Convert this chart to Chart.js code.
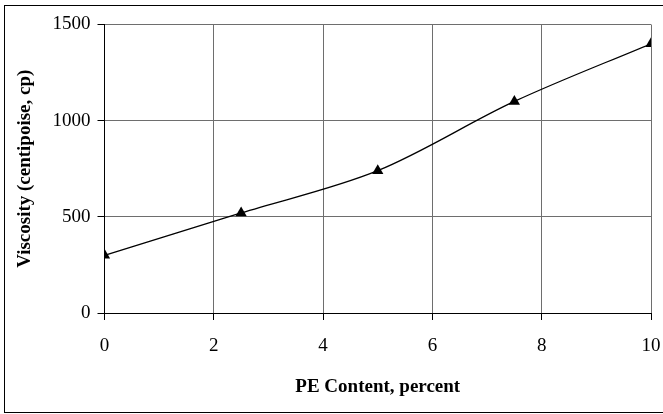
<!DOCTYPE html>
<html>
<head>
<meta charset="utf-8">
<title>Viscosity vs PE Content</title>
<script src="https://cdn.jsdelivr.net/npm/chart.js@4/dist/chart.umd.min.js"></script>
<style>
  html, body { margin: 0; padding: 0; background: #fff; }
  #wrap { width: 663px; height: 414px; }
</style>
</head>
<body>
<div id="wrap"><canvas id="c" width="663" height="414"></canvas></div>
<script>
// Measured viscosity at each polyethylene content
const peContent = [0, 2.5, 5, 7.5, 10];
const viscosity = [300, 520, 740, 1100, 1400];

// Axis ranges and tick spacing
const xTickStep = 2;
const yTickStep = 500;
const xTitle = 'PE Content, percent';
const yTitle = 'Viscosity (centipoise, cp)';

const serif = 'Liberation Serif, Times New Roman, serif';

// Thin frame around the whole chart
const framePlugin = {
  id: 'frame',
  beforeDraw(chart) {
    const ctx = chart.ctx;
    ctx.save();
    ctx.fillStyle = '#fff';
    ctx.fillRect(0, 0, chart.width, chart.height);
    ctx.strokeStyle = '#000';
    ctx.lineWidth = 1;
    ctx.strokeRect(4.5, 5.5, chart.width + 4, 407);
    ctx.restore();
  }
};

new Chart(document.getElementById('c'), {
  type: 'line',
  data: {
    datasets: [{
      data: peContent.map((x, i) => ({ x, y: viscosity[i] })),
      borderColor: '#000',
      borderWidth: 1.3,
      backgroundColor: '#000',
      pointStyle: 'triangle',
      pointRadius: 6.5,
      pointBorderWidth: 0,
      pointBackgroundColor: '#000',
      cubicInterpolationMode: 'default',
      tension: 0.33,
      fill: false
    }]
  },
  options: {
    responsive: false,
    animation: false,
    events: [],
    layout: { padding: { top: 24.5, right: 0, bottom: 0, left: 0 } },
    plugins: {
      legend: { display: false },
      tooltip: { enabled: false }
    },
    scales: {
      x: {
        type: 'linear',
        min: 0,
        max: 10,
        ticks: {
          stepSize: xTickStep,
          color: '#000',
          padding: 15,
          maxRotation: 0,
          font: { family: serif, size: 19 },
          callback: v => String(v)
        },
        grid: { color: '#6e6e6e', lineWidth: 1, tickLength: 7, tickColor: '#000' },
        border: { color: '#000', width: 1 },
        title: {
          display: true,
          text: xTitle,
          color: '#000',
          font: { family: serif, size: 19, weight: 'bold' },
          padding: { top: 0, bottom: 16 }
        },
        afterFit(scale) {
          scale.height = 101;
          scale.paddingRight = 12;
        }
      },
      y: {
        min: 0,
        max: 1500,
        ticks: {
          stepSize: yTickStep,
          color: '#000',
          padding: 7,
          font: { family: serif, size: 19 },
          callback: v => String(v)
        },
        grid: { color: '#6e6e6e', lineWidth: 1, tickLength: 7, tickColor: '#000' },
        border: { color: '#000', width: 1 },
        title: {
          display: true,
          text: yTitle,
          color: '#000',
          font: { family: serif, size: 19, weight: 'bold' },
          padding: { top: 14, bottom: 0 }
        },
        afterFit(scale) { scale.width = 104.5; }
      }
    }
  },
  plugins: [framePlugin]
});
</script>
</body>
</html>
